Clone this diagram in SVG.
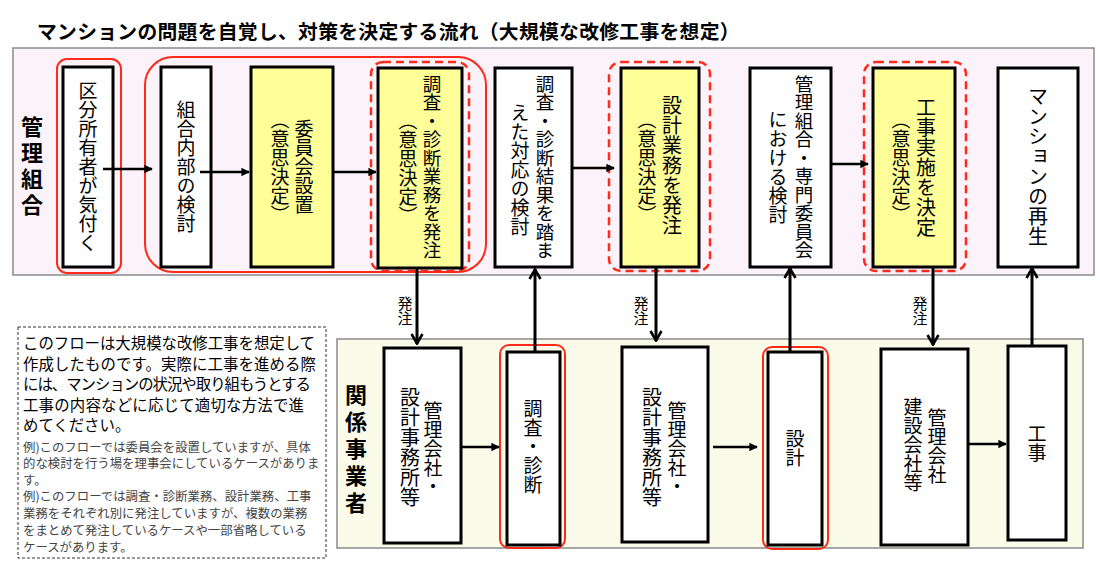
<svg xmlns="http://www.w3.org/2000/svg" width="1100" height="580" viewBox="0 0 1100 580">
<style>
.title{font-family:"Noto Sans CJK JP","Noto Sans CJK SC",sans-serif;font-size:19.8px;font-weight:bold;fill:#000;letter-spacing:0.3px}
.band1{fill:#fbf3f9;stroke:#8a8a8a;stroke-width:1.5}
.band2{fill:#fbfbe9;stroke:#8a8a8a;stroke-width:1.5}
.box{fill:#fff;stroke:#000;stroke-width:3}
.ybox{fill:#ffff99;stroke:#000;stroke-width:3}
.red{fill:none;stroke:#ff2a1a;stroke-width:2}
.dash{fill:none;stroke:#ff2a1a;stroke-width:2.5;stroke-dasharray:8 5}
.vt{font-family:"Noto Sans CJK JP","Noto Sans CJK SC",sans-serif;font-size:19px;writing-mode:vertical-rl;text-anchor:middle;fill:#000}
.lane{font-family:"Noto Sans CJK JP","Noto Sans CJK SC",sans-serif;font-size:22px;font-weight:bold;writing-mode:vertical-rl;text-anchor:middle;fill:#000}
.lbl{font-family:"Noto Sans CJK JP","Noto Sans CJK SC",sans-serif;font-size:15px;writing-mode:vertical-rl;text-anchor:middle;fill:#000}
.note{font-family:"Noto Sans CJK JP","Noto Sans CJK SC",sans-serif;font-size:15.4px;fill:#000}
.small{font-family:"Noto Sans CJK JP","Noto Sans CJK SC",sans-serif;font-size:12.4px;fill:#444}
.h{stroke:#000;stroke-width:2.5;fill:none;marker-end:url(#tri)}
.v{stroke:#000;stroke-width:3;fill:none;marker-end:url(#chev)}
</style>
<defs>
<marker id="tri" viewBox="0 0 10 10" refX="9" refY="5" markerWidth="3.4" markerHeight="3.4" orient="auto" markerUnits="strokeWidth">
<path d="M0,0 L10,5 L0,10 z" fill="#000"/>
</marker>
<marker id="chev" viewBox="0 0 12 14" refX="11" refY="7" markerWidth="12" markerHeight="14" orient="auto" markerUnits="userSpaceOnUse">
<path d="M1,1.5 L10.5,7 L1,12.5" fill="none" stroke="#000" stroke-width="2.6"/>
</marker>
</defs>
<rect width="1100" height="580" fill="#fff"/>
<text class="title" x="37" y="39">マンションの問題を自覚し、対策を決定する流れ（大規模な改修工事を想定）</text>

<g id="lane-kanri">
<rect class="band1" x="13" y="48" width="1081" height="227"/>
<text class="lane" x="32" y="168" style="letter-spacing:4px">管理組合</text>
</g>
<g id="lane-kankei">
<rect class="band2" x="337" y="339" width="746" height="209"/>
<text class="lane" x="356" y="451" style="letter-spacing:5px">関係事業者</text>
</g>

<g id="group-highlights">
<rect class="red" x="57" y="59" width="64" height="214" rx="10"/>
<rect class="red" x="145" y="57" width="341" height="215" rx="28"/>
<rect class="dash" x="371" y="62" width="98" height="209" rx="12"/>
<rect class="dash" x="609" y="62" width="101" height="209" rx="12"/>
<rect class="dash" x="864" y="62" width="102" height="209" rx="12"/>
<rect class="red" x="500" y="345" width="65" height="203" rx="9"/>
<rect class="red" x="763" y="347" width="65" height="202" rx="9"/>
</g>

<g id="n1">
<rect class="box" x="63" y="67" width="50" height="200"/>
<text class="vt" x="88" y="167">区分所有者が気付く</text>
</g>
<g id="n2">
<rect class="box" x="161" y="67" width="50" height="200"/>
<text class="vt" x="186" y="167">組合内部の検討</text>
</g>
<g id="n3">
<rect class="ybox" x="251" y="67" width="82" height="200"/>
<text class="vt" x="304" y="167">委員会設置</text>
<text class="vt" x="280" y="167">（意思決定）</text>
</g>
<g id="n4">
<rect class="ybox" x="378" y="68" width="84" height="200"/>
<text class="vt" x="432" y="167" style="font-size:18.5px">調査・診断業務を発注</text>
<text class="vt" x="408" y="168">（意思決定）</text>
</g>
<g id="n5">
<rect class="box" x="495" y="68" width="77" height="199"/>
<text class="vt" x="545" y="167" style="font-size:18.5px">調査・診断結果を踏ま</text>
<text class="vt" x="520" y="170">えた対応の検討</text>
</g>
<g id="n6">
<rect class="ybox" x="621" y="68" width="78" height="199"/>
<text class="vt" x="672" y="165" style="font-size:20px">設計業務を発注</text>
<text class="vt" x="647" y="167">（意思決定）</text>
</g>
<g id="n7">
<rect class="box" x="750" y="68" width="81" height="199"/>
<text class="vt" x="804" y="167" style="font-size:18.5px">管理組合・専門委員会</text>
<text class="vt" x="778" y="167">における検討</text>
</g>
<g id="n8">
<rect class="ybox" x="873" y="68" width="82" height="199"/>
<text class="vt" x="926" y="167" style="font-size:20px">工事実施を決定</text>
<text class="vt" x="901" y="167">（意思決定）</text>
</g>
<g id="n9">
<rect class="box" x="998" y="68" width="80" height="199"/>
<text class="vt" x="1038" y="166" style="font-size:20px">マンションの再生</text>
</g>

<g id="b1">
<rect class="box" x="384" y="348" width="77" height="195"/>
<text class="vt" x="433" y="449">管理会社・</text>
<text class="vt" x="410" y="447" style="font-size:20px">設計事務所等</text>
</g>
<g id="b2">
<rect class="box" x="507" y="352" width="53" height="193"/>
<text class="vt" x="533" y="447">調査・診断</text>
</g>
<g id="b3">
<rect class="box" x="622" y="347" width="86" height="195"/>
<text class="vt" x="677" y="449">管理会社・</text>
<text class="vt" x="652" y="447" style="font-size:20px">設計事務所等</text>
</g>
<g id="b4">
<rect class="box" x="768" y="352" width="54" height="193"/>
<text class="vt" x="795" y="448">設計</text>
</g>
<g id="b5">
<rect class="box" x="881" y="349" width="87" height="196"/>
<text class="vt" x="937" y="446">管理会社</text>
<text class="vt" x="913" y="445">建設会社等</text>
</g>
<g id="b6">
<rect class="box" x="1008" y="346" width="58" height="194"/>
<text class="vt" x="1037" y="443">工事</text>
</g>

<g id="connectors">
<path class="h" d="M103,169 L152,169"/>
<path class="h" d="M200,172 L249,172"/>
<path class="h" d="M333,172 L376,172"/>
<path class="h" d="M572,168 L614,168"/>
<path class="h" d="M831,164 L868,164"/>
<path class="h" d="M461,447 L499,447"/>
<path class="h" d="M713,447 L757,447"/>
<path class="h" d="M968,444 L1006,444"/>
<path class="v" d="M417,268 L417,344"/>
<path class="v" d="M535,352 L535,269"/>
<path class="v" d="M656,268 L656,341"/>
<path class="v" d="M790,352 L790,268"/>
<path class="v" d="M933,268 L933,345"/>
<path class="v" d="M1032,346 L1032,268"/>
<text class="lbl" x="405" y="311">発注</text>
<text class="lbl" x="641" y="311">発注</text>
<text class="lbl" x="920" y="311">発注</text>
</g>

<g id="note">
<rect x="18" y="327" width="308" height="231" fill="#fff" stroke="#333" stroke-width="1" stroke-dasharray="3 2"/>
<text class="note" x="23" y="349" textLength="292" lengthAdjust="spacing">このフローは大規模な改修工事を想定して</text>
<text class="note" x="23" y="369.5" textLength="293" lengthAdjust="spacing">作成したものです。実際に工事を進める際</text>
<text class="note" x="23" y="390" textLength="288" lengthAdjust="spacing">には、マンションの状況や取り組もうとする</text>
<text class="note" x="23" y="410.5" textLength="281" lengthAdjust="spacing">工事の内容などに応じて適切な方法で進</text>
<text class="note" x="23" y="431">めてください。</text>
<text class="small" x="23" y="451.5">例)このフローでは委員会を設置していますが、具体</text>
<text class="small" x="23" y="468">的な検討を行う場を理事会にしているケースがありま</text>
<text class="small" x="23" y="484.5">す。</text>
<text class="small" x="23" y="501">例)このフローでは調査・診断業務、設計業務、工事</text>
<text class="small" x="23" y="517.5">業務をそれぞれ別に発注していますが、複数の業務</text>
<text class="small" x="23" y="534.5">をまとめて発注しているケースや一部省略している</text>
<text class="small" x="23" y="551.5">ケースがあります。</text>
</g>
</svg>
